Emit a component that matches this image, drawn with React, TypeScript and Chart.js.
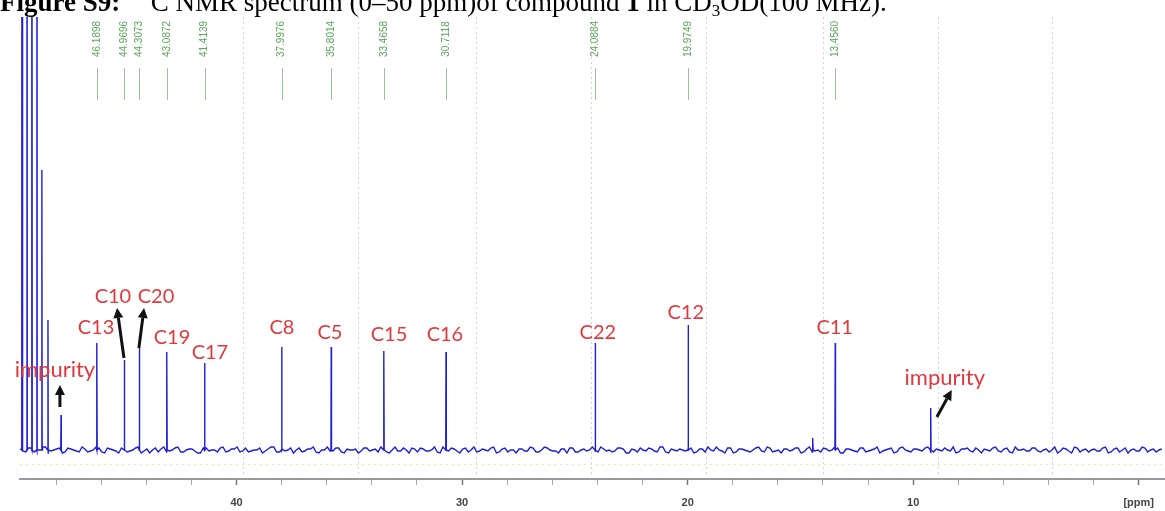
import React, { useEffect, useRef } from 'react';
import { Chart, registerables } from 'chart.js';

Chart.register(...registerables);

// ---- data ----
const peakPpm = [46.1898, 44.9696, 44.3073, 43.0872, 41.4139, 37.9976, 35.8014, 33.4658, 30.7118, 24.0884, 19.9749, 13.456];
const peakHeights = [107, 90, 102, 98, 87, 103, 103, 99, 98, 107, 125, 107];
const peakNames = ['C13', 'C10', 'C20', 'C19', 'C17', 'C8', 'C5', 'C15', 'C16', 'C22', 'C12', 'C11'];
const solventPpm = [49.51, 49.29, 49.07, 48.85, 48.63, 48.36];
const solventHeights = [1000, 1000, 1000, 1000, 280, 130];
const impurityPpm = [47.78, 9.22];
const impurityHeights = [35, 42];
const smallPpm = [14.45];
const smallHeights = [12];
const noiseStartPpm = 49.6;
const noiseStepPpm = 0.25;
const noiseA = [
  1, -2, 2, -1, 3, -3, 0, 2, -2, 1, -1, 3, -2, 0, 2, -3, 1, -1, 2, -2,
  0, 3, -1, -3, 2, 1, -2, 0, 3, -2, 1, -1, -3, 2, 0, -2, 3, -1, 1, -2,
  2, -1, 0, -3, 1, 3, -2, -1, 2, 0, -2, 1, 3, -3, 0, -1, 2, -2, 1, 0,
  -3, 2, -1, 1, 3, -2, 0, -1, 2, -3, 1, 2, -1, 0, -2, 3, -1, 1, -3, 2,
  0, -2, 1, -1, 3, -2, 2, 0, -3, 1, -1, 2, -2, 3, 0, -1, 1, -3, 2, -2,
  1, 0, -2, 3, -1, -2, 2, 1, -3, 0, 2, -1, 1, -2, 3, -3, 0, 1, -1, 2,
  -2, 1, 3, -1, 0, -3, 2, -2, 1, -1, 0, 3, -2, 2, -1, -3, 1, 0, 2, -2,
  3, -1, -2, 1, 0, 2, -3, 1, -1, 2, -2, 0, 3, -1, 1, -3, 2, 0, -2, 1,
  -1, 3, -2, 0, 2, -1, -3, 1, 2, -2, 0, 1, -1, 3, -2, 2, -3, 0, 1, -1,
  2, -2, 1, 0, -3, 2, -1, 3, -2, 1, 0, -1, 2, -3, 1, -2, 2, 0, -1, 3,
  -2, 1, 0,
];
const noiseB = [
  -1, 2, -2, 0, 3, -1, 1, -3, 2, 0, -2, 1, -1, 3, -2, 2, 0, -3, 1, -1,
  2, -3, 1, 0, -2, 3, -1, 2, -2, 0, 1, -3, 2, -1, 0, 2, -2, 1, 3, -1,
  -2, 0, 2, -1, 3, -2, 1, 0, -3, 2, -1, 1, -2, 0, 3, -1, 2, -3, 0, 1,
  -1, 2, 0, -2, 1, -3, 3, -1, 0, 2, -2, 1, -1, 3, -3, 0, 2, -1, 1, -2,
  3, -1, 0, 2, -3, 1, -2, 0, 1, -1, 3, -2, 0, 2, -1, -3, 1, 2, -2, 0,
  -1, 3, -2, 1, 0, -1, 2, -3, 1, -2, 0, 2, -1, 3, -2, 1, -1, 0, 2, -3,
  1, -2, 0, 3, -1, 2, -3, 1, 0, -2, 2, -1, 3, -2, 0, 1, -1, 2, -3, 1,
  -2, 0, 2, -1, 3, -3, 1, 0, -2, 2, -1, 1, -3, 0, 2, -2, 3, -1, 1, 0,
  2, -3, 1, -1, 0, 3, -2, 1, -1, 2, -3, 0, 2, -1, 1, -2, 3, 0, -1, 2,
  -1, 0, -2, 3, -1, 1, -3, 2, 0, -2, 1, -1, 3, -2, 2, 0, -3, 1, -1, 2,
  0, -2, 1,
];
const gridPpm = [39.7, 34.6, 29.4, 24.3, 19.2, 14.0, 8.9, 3.85];
const majorTicks = [40, 30, 20, 10, 0];
const majorTickLabels = ['40', '30', '20', '10', '[ppm]'];
const xMin = -1.15;
const xMax = 49.6;
const yMin = -29;
const yMax = 433;
const faintLineVal = -14;

// ---- annotation layout (ppm / intensity units) ----
const redLabels = [
  { text: 'C13', ppm: 46.23, val: 122 },
  { text: 'C10', ppm: 45.48, val: 153 },
  { text: 'C20', ppm: 43.57, val: 153 },
  { text: 'C19', ppm: 42.86, val: 112 },
  { text: 'C17', ppm: 41.18, val: 97 },
  { text: 'C8', ppm: 37.99, val: 122 },
  { text: 'C5', ppm: 35.86, val: 117 },
  { text: 'C15', ppm: 33.24, val: 115 },
  { text: 'C16', ppm: 30.76, val: 115 },
  { text: 'C22', ppm: 23.98, val: 117 },
  { text: 'C12', ppm: 20.08, val: 137 },
  { text: 'C11', ppm: 13.48, val: 122 },
];
const impurityLabels = [
  { text: 'impurity', ppm: 48.05, val: 80 },
  { text: 'impurity', ppm: 8.6, val: 72 },
];
const arrows = [
  { from: [44.99, 92], to: [45.3, 142] },
  { from: [44.33, 102], to: [44.1, 142] },
  { from: [47.83, 43], to: [47.83, 65] },
  { from: [8.95, 33], to: [8.29, 60] },
];

function buildPoints() {
  const pts: { x: number; y: number }[] = [];
  noiseA.forEach((v, i) => pts.push({ x: noiseStartPpm - i * noiseStepPpm, y: v }));
  noiseB.forEach((v, i) => pts.push({ x: noiseStartPpm - (i + 0.5) * noiseStepPpm, y: v }));
  const addStick = (p: number, h: number) => {
    pts.push({ x: p + 0.012, y: 0 });
    pts.push({ x: p, y: h });
    pts.push({ x: p - 0.012, y: 0 });
  };
  peakPpm.forEach((p, i) => addStick(p, peakHeights[i]));
  solventPpm.forEach((p, i) => addStick(p, solventHeights[i]));
  impurityPpm.forEach((p, i) => addStick(p, impurityHeights[i]));
  smallPpm.forEach((p, i) => addStick(p, smallHeights[i]));
  pts.sort((a, b) => b.x - a.x);
  return pts;
}

function drawArrow(ctx: CanvasRenderingContext2D, x1: number, y1: number, x2: number, y2: number) {
  const ang = Math.atan2(y2 - y1, x2 - x1);
  const head = 10;
  const hw = 5;
  const bx = x2 - head * Math.cos(ang);
  const by = y2 - head * Math.sin(ang);
  ctx.beginPath();
  ctx.moveTo(x1, y1);
  ctx.lineTo(bx, by);
  ctx.lineWidth = 3;
  ctx.strokeStyle = '#111';
  ctx.stroke();
  ctx.beginPath();
  ctx.moveTo(x2, y2);
  ctx.lineTo(bx + hw * Math.sin(ang), by - hw * Math.cos(ang));
  ctx.lineTo(bx - hw * Math.sin(ang), by + hw * Math.cos(ang));
  ctx.closePath();
  ctx.fillStyle = '#111';
  ctx.fill();
}

const overlayPlugin = {
  id: 'overlay',
  beforeDatasetsDraw(chart: any) {
    const { ctx, chartArea, scales } = chart;
    const x = scales.x;
    const y = scales.y;
    ctx.save();
    ctx.strokeStyle = '#d4d4d4';
    ctx.lineWidth = 1;
    ctx.setLineDash([2, 3]);
    gridPpm.forEach((p) => {
      const px = Math.round(x.getPixelForValue(p)) + 0.5;
      ctx.beginPath();
      ctx.moveTo(px, chartArea.top);
      ctx.lineTo(px, chartArea.bottom - 2);
      ctx.stroke();
    });
    ctx.strokeStyle = '#ece6b4';
    ctx.setLineDash([2, 4]);
    const fy = Math.round(y.getPixelForValue(faintLineVal)) + 0.5;
    ctx.beginPath();
    ctx.moveTo(chartArea.left, fy);
    ctx.lineTo(chartArea.right, fy);
    ctx.stroke();
    ctx.restore();
  },
  afterDraw(chart: any) {
    const { ctx, scales } = chart;
    const x = scales.x;
    const y = scales.y;
    ctx.save();

    // title (partially cut at the top)
    const base = 11;
    let cx = 0;
    ctx.textBaseline = 'alphabetic';
    ctx.textAlign = 'left';
    ctx.fillStyle = '#000';
    const seg = (t: string, font: string, dy = 0) => {
      ctx.font = font;
      ctx.fillText(t, cx, base + dy);
      cx += ctx.measureText(t).width;
    };
    const reg = '27px "Liberation Serif"';
    const bold = 'bold 27px "Liberation Serif"';
    const small = '17px "Liberation Serif"';
    seg('Figure S9:', bold);
    seg('  ', reg);
    seg('13', small, -11);
    seg('C NMR spectrum (0–50 ppm)of compound ', reg);
    seg('1', bold);
    seg(' in CD', reg);
    seg('3', small, 5);
    seg('OD(100 MHz).', reg);

    // green peak labels
    ctx.font = '10px "Liberation Sans"';
    peakPpm.forEach((p) => {
      const px = x.getPixelForValue(p);
      ctx.save();
      ctx.translate(px, 39);
      ctx.rotate(-Math.PI / 2);
      ctx.textAlign = 'center';
      ctx.textBaseline = 'middle';
      ctx.fillStyle = '#5aa55a';
      ctx.fillText(p.toFixed(4), 0, 0);
      ctx.restore();
      ctx.beginPath();
      ctx.strokeStyle = '#9ac49a';
      ctx.lineWidth = 1;
      ctx.moveTo(Math.round(px) + 0.5, 68);
      ctx.lineTo(Math.round(px) + 0.5, 100);
      ctx.stroke();
    });

    // red labels
    ctx.textAlign = 'center';
    ctx.textBaseline = 'middle';
    ctx.fillStyle = '#e0383c';
    ctx.font = '20px Lato';
    redLabels.forEach((l) => {
      ctx.fillText(l.text, x.getPixelForValue(l.ppm), y.getPixelForValue(l.val));
    });
    ctx.font = '22px Lato';
    impurityLabels.forEach((l) => {
      ctx.fillText(l.text, x.getPixelForValue(l.ppm), y.getPixelForValue(l.val));
    });

    // arrows
    arrows.forEach((a) => {
      drawArrow(
        ctx,
        x.getPixelForValue(a.from[0]), y.getPixelForValue(a.from[1]),
        x.getPixelForValue(a.to[0]), y.getPixelForValue(a.to[1])
      );
    });
    ctx.restore();
  },
};

const isMajor = (v: number) => majorTicks.some((m) => Math.abs(m - v) < 1e-6);

export default function App() {
  const ref = useRef<HTMLCanvasElement | null>(null);
  useEffect(() => {
    document.body.style.margin = '0';
    const canvas = ref.current;
    if (!canvas) return;
    const chart = new Chart(canvas, {
      type: 'line',
      data: {
        datasets: [
          {
            data: buildPoints(),
            borderColor: '#1e1ed8',
            borderWidth: 1.4,
            pointRadius: 0,
            tension: 0,
            fill: false,
          },
        ],
      },
      options: {
        responsive: false,
        animation: false,
        devicePixelRatio: 1,
        layout: { padding: { left: 20, right: 0, top: 17, bottom: 0 } },
        plugins: { legend: { display: false }, tooltip: { enabled: false }, title: { display: false } },
        scales: {
          x: {
            type: 'linear',
            reverse: true,
            min: xMin,
            max: xMax,
            afterFit: (s: any) => {
              s.height = 32;
            },
            border: { display: true, color: '#9a9a9a', width: 2 },
            grid: {
              display: true,
              drawOnChartArea: false,
              drawTicks: true,
              tickLength: 6,
              tickColor: (c: any) => (isMajor(c.tick?.value) ? '#777' : '#aaa'),
              tickWidth: (c: any) => (isMajor(c.tick?.value) ? 1.5 : 1),
            },
            ticks: {
              stepSize: 2,
              autoSkip: false,
              includeBounds: false,
              maxRotation: 0,
              padding: 11,
              color: '#444',
              font: { family: '"Liberation Sans"', size: 11, weight: 'bold' },
              callback: (v: any) => {
                const idx = majorTicks.findIndex((m) => Math.abs(m - Number(v)) < 1e-6);
                return idx >= 0 ? majorTickLabels[idx] : '';
              },
            },
          },
          y: { display: false, min: yMin, max: yMax },
        },
      },
      plugins: [overlayPlugin],
    } as any);
    return () => chart.destroy();
  }, []);
  return (
    <div style={{ width: 1165, height: 511, background: '#fff' }}>
      <canvas ref={ref} width={1165} height={511} style={{ display: 'block' }} />
    </div>
  );
}
